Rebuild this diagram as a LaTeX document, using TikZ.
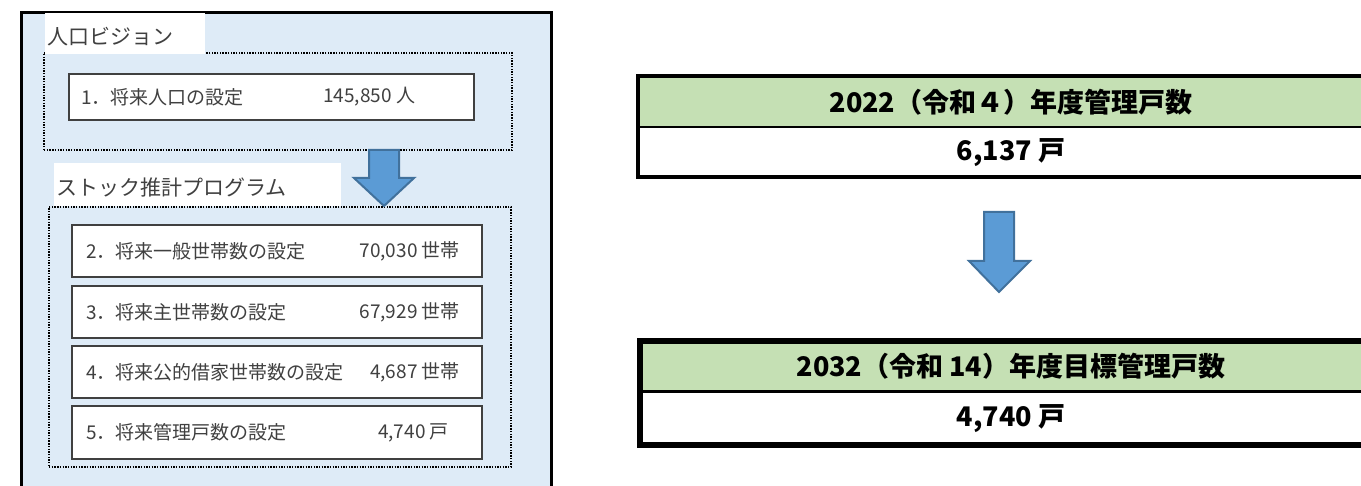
\documentclass[tikz,border=0pt]{standalone}
\usepackage{fontspec}
\setmainfont{Noto Sans CJK JP}
\definecolor{bluebg}{HTML}{DEEBF7}
\definecolor{greenhd}{HTML}{C5E0B4}
\definecolor{arrowfill}{HTML}{5B9BD5}
\definecolor{arrowline}{HTML}{41719C}
\definecolor{txtgray}{HTML}{404040}
\begin{document}
\begin{tikzpicture}[x=1pt,y=-1pt,
  stepbox/.style={draw=txtgray, line width=1.3pt, fill=white, rectangle, anchor=north west, inner sep=0pt, outer sep=0pt},
  dotbox/.style={draw=black, line width=1.5pt, dash pattern=on 1.4pt off 1.3pt, rectangle, anchor=north west, inner sep=0pt, outer sep=0pt},
  whitelabel/.style={fill=white, rectangle, anchor=north west, inner sep=0pt, outer sep=0pt},
  labeltext/.style={font=\fontsize{21}{21}\selectfont, text=txtgray, inner sep=0pt, anchor=west},
  steptext/.style={font=\fontsize{19}{19}\selectfont, text=txtgray, inner sep=0pt},
  hdr/.style={fill=greenhd, rectangle, anchor=north west, inner sep=0pt, outer sep=0pt, font=\bfseries\fontsize{27}{27}\selectfont},
  valbox/.style={fill=white, rectangle, anchor=north west, inner sep=0pt, outer sep=0pt, font=\bfseries\fontsize{27}{27}\selectfont},
  blockarrow/.style={draw=arrowline, fill=arrowfill, line width=2pt, line join=miter}
]
\clip (0,0) rectangle (1361,486);
\fill[white] (0,0) rectangle (1361,486);

% outer panel
\node[draw=black, line width=3pt, fill=bluebg, rectangle, anchor=north west, inner sep=0pt,
      minimum width=530pt, minimum height=520pt] (outer) at (19.5,11.5) {};

% population vision
\node[dotbox, minimum width=468pt, minimum height=97pt] (dot1) at (44,53) {};
\node[whitelabel, minimum width=160pt, minimum height=41pt] (lab1) at (45,13) {};
\node[labeltext] (lab1t) at (47,37) {人口ビジョン};
\node[stepbox, minimum width=405pt, minimum height=46pt] (b1) at (69,74) {};
\node[steptext, anchor=west] (t1) at ([xshift=12pt]b1.west) {1．将来人口の設定};
\node[steptext, anchor=west] (n1) at (323,97) {145,850 人};

% stock program
\node[dotbox, minimum width=462pt, minimum height=260pt] (dot2) at (49,207) {};
\node[whitelabel, minimum width=287pt, minimum height=43pt] (lab2) at (54,163) {};
\node[labeltext] (lab2t) at (56,188) {ストック推計プログラム};

\node[stepbox, minimum width=410pt, minimum height=52pt] (b2) at (72,225) {};
\node[stepbox, minimum width=410pt, minimum height=52pt] (b3) at (72,286) {};
\node[stepbox, minimum width=410pt, minimum height=52pt] (b4) at (72,346) {};
\node[stepbox, minimum width=410pt, minimum height=53pt] (b5) at (72,406) {};

\node[steptext, anchor=west] (t2) at ([xshift=14pt]b2.west) {2．将来一般世帯数の設定};
\node[steptext, anchor=west] (t3) at ([xshift=14pt]b3.west) {3．将来主世帯数の設定};
\node[steptext, anchor=west] (t4) at ([xshift=14pt]b4.west) {4．将来公的借家世帯数の設定};
\node[steptext, anchor=west] (t5) at ([xshift=14pt]b5.west) {5．将来管理戸数の設定};

\node[steptext, anchor=east] (n2) at ([xshift=-22pt]b2.east) {70,030 世帯};
\node[steptext, anchor=east] (n3) at ([xshift=-22pt]b3.east) {67,929 世帯};
\node[steptext, anchor=east] (n4) at ([xshift=-22pt]b4.east) {4,687 世帯};
\node[steptext, anchor=east] (n5) at ([xshift=-33pt]b5.east) {4,740 戸};

% arrow between the two groups
\draw[blockarrow] (369,150) -- (399,150) -- (399,178) -- (414,178) -- (384,206) -- (354,178) -- (369,178) -- cycle;

% right: current stock
\node[hdr, minimum width=746pt, minimum height=50.5pt] (h1) at (638,76.5) {2022（令和４）年度管理戸数};
\node[valbox, minimum width=746pt, minimum height=50.5pt] (v1) at (638,127) {6,137 戸};
\draw[line width=2.5pt] (h1.south west) -- (h1.south east);
\draw[line width=4pt] (h1.north west) rectangle (v1.south east);

% arrow
\draw[blockarrow] (984,212) -- (1014,212) -- (1014,261) -- (1030,261) -- (999,292) -- (969,261) -- (984,261) -- cycle;

% right: target stock
\node[hdr, minimum width=742pt, minimum height=51pt] (h2) at (640,341) {2032（令和 14）年度目標管理戸数};
\node[valbox, minimum width=742pt, minimum height=53pt] (v2) at (640,392) {4,740 戸};
\draw[line width=3pt] (h2.south west) -- (h2.south east);
\draw[line width=6pt] (h2.north west) rectangle (v2.south east);
\end{tikzpicture}
\end{document}
